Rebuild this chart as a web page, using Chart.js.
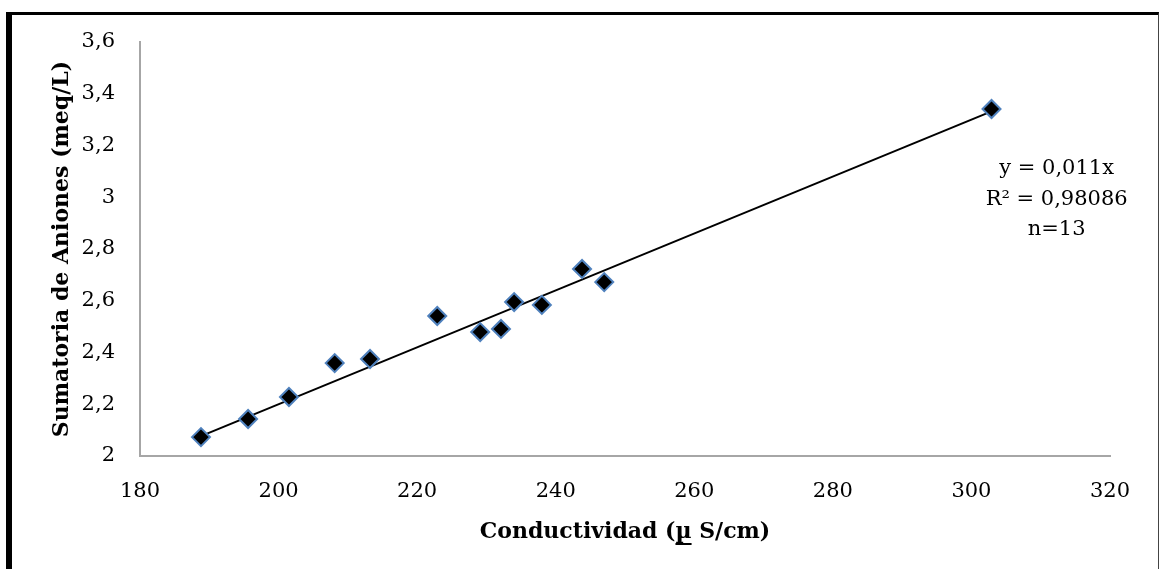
<!DOCTYPE html>
<html>
<head>
<meta charset="utf-8">
<script src="https://cdn.jsdelivr.net/npm/chart.js@4/dist/chart.umd.min.js"></script>
<style>
  html, body { margin: 0; padding: 0; background: #fff; }
  #wrap { position: relative; width: 1160px; height: 569px; overflow: hidden; }
  #frame {
    position: absolute; left: 6px; top: 12px; width: 1146px; height: 600px;
    border-left: 6px solid #000; border-top: 3px solid #000; border-right: 1px solid #444;
    pointer-events: none;
  }
</style>
</head>
<body>
<div id="wrap">
  <canvas id="chart" width="1160" height="569"></canvas>
  <div id="frame"></div>
</div>
<script>
// conductividad (µS/cm) vs sumatoria de aniones (meq/L)
const conductividad = [188.8, 195.6, 201.5, 208.1, 213.2, 222.9, 229.1, 232.1, 234.0, 238.0, 243.8, 247.0, 302.9];
const aniones = [2.073, 2.143, 2.228, 2.359, 2.375, 2.541, 2.479, 2.491, 2.595, 2.584, 2.723, 2.672, 3.341];

// linear trendline y = 0,011x, drawn between first and last point
const trendX = [188.8, 302.9];
const trendY = [2.077, 3.332];

const yTickLabels = ["2", "2,2", "2,4", "2,6", "2,8", "3", "3,2", "3,4", "3,6"];
const annotLines = ["y = 0,011x", "R² = 0,98086", "n=13"];

const xTitleParts = ["Conductividad (", "µ", " S/cm)"];
const yTitle = "Sumatoria de Aniones (meq/L)";

const FONT = "'DejaVu Serif', serif";

const extraText = {
  id: "extraText",
  afterDraw(chart) {
    const ctx = chart.ctx;
    const xs = chart.scales.x;
    const ys = chart.scales.y;
    ctx.save();
    ctx.fillStyle = "#000";
    // equation box
    ctx.font = "21px " + FONT;
    ctx.textAlign = "center";
    ctx.textBaseline = "middle";
    const ax = xs.getPixelForValue(312.3);
    let ay = ys.getPixelForValue(3.11);
    annotLines.forEach((t) => {
      ctx.fillText(t, ax, ay);
      ay += 30.5;
    });
    // x axis title with underlined µ, centred on the plot area
    ctx.font = "bold 22px " + FONT;
    ctx.textAlign = "left";
    const w0 = ctx.measureText(xTitleParts[0]).width;
    const w1 = ctx.measureText(xTitleParts[1]).width;
    const w2 = ctx.measureText(xTitleParts[2]).width;
    const tx = (xs.left + xs.right) / 2 - (w0 + w1 + w2) / 2;
    const ty = 532;
    ctx.fillText(xTitleParts[0], tx, ty);
    ctx.fillText(xTitleParts[1], tx + w0, ty);
    ctx.fillText(xTitleParts[2], tx + w0 + w1, ty);
    ctx.fillRect(tx + w0, ty + 11, w1, 2);
    ctx.restore();
  }
};

new Chart(document.getElementById("chart"), {
  type: "scatter",
  data: {
    datasets: [
      {
        label: "Aniones",
        data: conductividad.map((x, i) => ({ x: x, y: aniones[i] })),
        pointStyle: "rectRot",
        pointRadius: 9,
        pointHoverRadius: 9,
        backgroundColor: "#000",
        borderColor: "#4f81bd",
        borderWidth: 2,
        order: 1
      },
      {
        label: "Tendencia",
        type: "line",
        data: trendX.map((x, i) => ({ x: x, y: trendY[i] })),
        borderColor: "#000",
        borderWidth: 2,
        pointRadius: 0,
        showLine: true,
        order: 2
      }
    ]
  },
  options: {
    responsive: false,
    animation: false,
    layout: { padding: { top: 42, right: 50, left: 0, bottom: 0 } },
    plugins: {
      legend: { display: false },
      tooltip: { enabled: false }
    },
    scales: {
      x: {
        type: "linear",
        min: 180,
        max: 320,
        ticks: { stepSize: 20, color: "#000", font: { family: FONT, size: 21 }, padding: 23 },
        grid: { display: false, drawTicks: false },
        border: { display: true, color: "#a6a6a6", width: 2 },
        afterFit: (s) => { s.height = 113; }
      },
      y: {
        min: 2,
        max: 3.6,
        ticks: {
          stepSize: 0.2,
          color: "#000",
          font: { family: FONT, size: 21 },
          padding: 25,
          callback: (v, i) => yTickLabels[i]
        },
        grid: { display: false, drawTicks: false },
        border: { display: true, color: "#a6a6a6", width: 2 },
        title: {
          display: true,
          text: yTitle,
          color: "#000",
          font: { family: FONT, size: 22, weight: "bold" },
          padding: { top: 49, bottom: 0 }
        },
        afterFit: (s) => { s.width = 140; }
      }
    }
  },
  plugins: [extraText]
});
</script>
</body>
</html>
